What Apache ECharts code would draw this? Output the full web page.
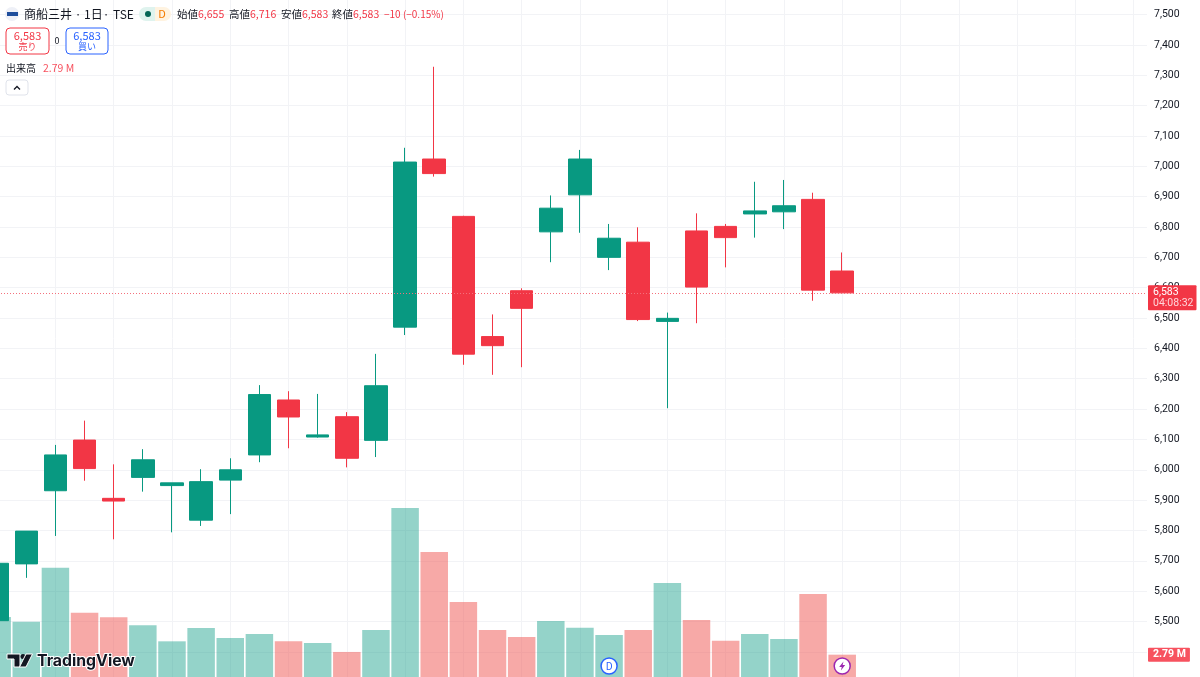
<!DOCTYPE html>
<html>
<head>
<meta charset="utf-8">
<title>商船三井</title>
<script src="https://cdn.jsdelivr.net/npm/echarts@6/dist/echarts.min.js"></script>
<style>
html, body { margin: 0; padding: 0; background: #fff; }
#chart { width: 1200px; height: 677px; }
</style>
</head>
<body>
<div id="chart"></div>
<script type="text/javascript">

// daily bars, left to right
var opens = [5503, 5690, 5931, 6098, 5906, 5975, 5948, 5834, 5966, 6049, 6230, 6108, 6175, 6097, 6470, 7024, 6835, 6439, 6590, 6784, 6906, 6700, 6750, 6489, 6787, 6802, 6843, 6850, 6891, 6655];
var closes = [5692, 5798, 6049, 6004, 5897, 6033, 5957, 5961, 6000, 6248, 6174, 6115, 6038, 6277, 7014, 6976, 6381, 6409, 6532, 6862, 7024, 6763, 6495, 6499, 6602, 6765, 6853, 6870, 6592, 6583];
var lows = [5490, 5644, 5782, 5964, 5771, 5928, 5794, 5815, 5854, 6025, 6071, 6106, 6008, 6042, 6444, 6966, 6346, 6313, 6338, 6684, 6781, 6658, 6490, 6203, 6483, 6667, 6765, 6793, 6557, 6583];
var highs = [5700, 5798, 6082, 6162, 6018, 6068, 5957, 6002, 6038, 6279, 6259, 6250, 6190, 6382, 7061, 7328, 6837, 6512, 6598, 6904, 7054, 6810, 6799, 6518, 6845, 6810, 6949, 6955, 6913, 6716];
// volume in millions
var volumes = [7.5, 6.91, 13.66, 8.04, 7.46, 6.46, 4.46, 6.13, 4.88, 5.38, 4.46, 4.25, 3.13, 5.88, 21.13, 15.63, 9.38, 5.88, 5.0, 7.0, 6.16, 5.25, 5.88, 11.75, 7.13, 4.54, 5.38, 4.75, 10.38, 2.79];
// vertical grid lines, as bar positions
var gridTicks = [2, 4, 6, 8, 10, 12, 14, 16, 18, 20, 23, 25, 27, 29, 31, 33, 35, 37, 39];
var hiddenPriceLabels = [5300, 5400, 7600];
var lastPrice = 6583;
var lastVolume = 2.79;
var dividendBar = 21;
var earningsBar = 29;

var GREEN = '#089981';
var RED = '#f23645';
var FONT = '"Noto Sans CJK JP", "Noto Sans", sans-serif';

var candleData = opens.map(function (o, i) {
	return [i, o, closes[i], lows[i], highs[i]];
});
var volumeData = volumes.map(function (v, i) {
	return {
		value: [i, v],
		itemStyle: { color: closes[i] >= opens[i] ? 'rgba(8,153,129,0.43)' : 'rgba(239,83,80,0.5)' }
	};
});

function txt(x, y, text, size, color, align, weight) {
	return {
		type: 'text', x: x, y: y, z: 100, silent: true,
		style: {
			text: text, fill: color, align: align || 'left', verticalAlign: 'middle',
			font: (weight || 'normal') + ' ' + size + 'px ' + FONT
		}
	};
}
function box(x, y, w, h, stroke, r) {
	return {
		type: 'rect', z: 99, silent: true,
		shape: { x: x, y: y, width: w, height: h, r: r },
		style: { fill: '#fff', stroke: stroke, lineWidth: 1 }
	};
}

var header = [
	{ type: 'circle', z: 99, shape: { cx: 12, cy: 14, r: 7 }, style: { fill: '#eef0f7' } },
	{ type: 'rect', z: 100, shape: { x: 7, y: 12, width: 11, height: 4 }, style: { fill: '#1f4e9c' } },
	txt(24, 14, '商船三井', 12, '#131722'),
	txt(78, 14, '·', 12, '#131722', 'center'),
	txt(84, 14, '1日', 12, '#131722'),
	txt(106, 14, '·', 12, '#131722', 'center'),
	txt(113, 14, 'TSE', 12, '#131722'),
	{ type: 'rect', z: 99, shape: { x: 139, y: 7, width: 16, height: 14, r: [7, 0, 0, 7] }, style: { fill: '#dff3ee' } },
	{ type: 'rect', z: 99, shape: { x: 155, y: 7, width: 16, height: 14, r: [0, 7, 7, 0] }, style: { fill: '#fff3e0' } },
	{ type: 'circle', z: 100, shape: { cx: 148, cy: 14, r: 3 }, style: { fill: '#056656' } },
	txt(162, 14, 'D', 11, '#f57c00', 'center'),
	txt(177, 14, '始値', 10.5, '#131722'),
	txt(198, 14, '6,655', 10.5, RED),
	txt(229, 14, '高値', 10.5, '#131722'),
	txt(250, 14, '6,716', 10.5, RED),
	txt(281, 14, '安値', 10.5, '#131722'),
	txt(302, 14, '6,583', 10.5, RED),
	txt(332, 14, '終値', 10.5, '#131722'),
	txt(353, 14, '6,583', 10.5, RED),
	txt(384, 14, '−10 (−0.15%)', 10, RED),
	box(6, 28, 43, 26, RED, 4),
	txt(27.5, 35.5, '6,583', 11, RED, 'center'),
	txt(27.5, 47, '売り', 9, RED, 'center'),
	txt(57, 41, '0', 9, '#131722', 'center'),
	box(66, 28, 42, 26, '#2962ff', 4),
	txt(87, 35.5, '6,583', 11, '#2962ff', 'center'),
	txt(87, 47, '買い', 9, '#2962ff', 'center'),
	txt(6, 68, '出来高', 10, '#131722'),
	txt(43, 68, '2.79 M', 10.5, '#f7525f'),
	box(6, 80, 22, 15, '#e0e3eb', 3),
	{ type: 'polyline', z: 100, shape: { points: [[14, 89.5], [17, 86.5], [20, 89.5]] }, style: { fill: 'none', stroke: '#131722', lineWidth: 1.3 } },
	// TradingView mark
	{ type: 'polygon', z: 100, shape: { points: [[7, 654], [20, 654], [20, 667], [14, 667], [14, 659], [7, 659]] }, style: { fill: '#131722', stroke: '#fff', lineWidth: 1 } },
	{ type: 'circle', z: 100, shape: { cx: 23, cy: 656.5, r: 2.5 }, style: { fill: '#131722' } },
	{ type: 'polygon', z: 100, shape: { points: [[26, 654], [32.5, 654], [26, 667], [19.5, 667]] }, style: { fill: '#131722', stroke: '#fff', lineWidth: 1 } },
	{
		type: 'text', x: 37, y: 661, z: 100, silent: true,
		style: {
			text: 'TradingView', fill: '#131722', stroke: '#fff', lineWidth: 2,
			verticalAlign: 'middle', font: 'bold 15.8px Inter, "Noto Sans", sans-serif'
		}
	}
];

var chart = echarts.init(document.getElementById('chart'), null, { renderer: 'canvas' });

chart.setOption({
	animation: false,
	backgroundColor: '#ffffff',
	textStyle: { fontFamily: FONT },
	grid: [
		{ left: -32, top: -15.8, width: 1179, height: 698.05, outerBoundsMode: 'none' },
		{ left: -32, top: 477, width: 1179, height: 200, outerBoundsMode: 'none' }
	],
	xAxis: [
		{
			type: 'value', gridIndex: 0, min: -1, max: 39.46,
			axisLine: { show: false }, axisLabel: { show: false },
			axisTick: { show: false, customValues: gridTicks },
			splitLine: { show: true, lineStyle: { color: '#f2f3f6', width: 1 } }
		},
		{
			type: 'value', gridIndex: 1, min: -1, max: 39.46,
			axisLine: { show: false }, axisLabel: { show: false },
			axisTick: { show: false }, splitLine: { show: false }
		}
	],
	yAxis: [
		{
			type: 'value', gridIndex: 0, position: 'right',
			min: 5300, max: 7600, interval: 100,
			axisLine: { show: false }, axisTick: { show: false },
			splitLine: { show: true, lineStyle: { color: '#f2f3f6', width: 1 } },
			axisLabel: {
				color: '#131722', fontSize: 10.5, margin: 7, fontFamily: 'Roboto, "Noto Sans", sans-serif',
				formatter: function (v) {
					if (hiddenPriceLabels.indexOf(v) >= 0) return '';
					return String(v).replace(/(\d)(\d{3})$/, '$1,$2');
				}
			}
		},
		{
			type: 'value', gridIndex: 1, position: 'right', min: 0, max: 25,
			axisLine: { show: false }, axisTick: { show: false },
			axisLabel: { show: false }, splitLine: { show: false }
		}
	],
	graphic: header,
	series: [
		{
			type: 'bar', name: '出来高', xAxisIndex: 1, yAxisIndex: 1, z: 2,
			barWidth: 27.5, data: volumeData,
			markLine: {
				silent: true, symbol: 'none', animation: false,
				lineStyle: { color: 'rgba(0,0,0,0)', width: 0 },
				data: [{ yAxis: lastVolume }],
				label: {
					position: 'end', distance: 1, formatter: '2.79 M',
					color: '#fff', fontSize: 10.5, fontWeight: 'bold',
					backgroundColor: '#f7525f', padding: [2, 4, 1, 5], borderRadius: 1,
					fontFamily: 'Roboto, sans-serif'
				}
			},
			markPoint: {
				silent: true, animation: false,
				data: [
					{
						coord: [dividendBar, 1.375], symbol: 'circle', symbolSize: 16,
						itemStyle: { color: '#fff', borderColor: '#2962ff', borderWidth: 1.5 },
						label: { show: true, formatter: 'D', color: '#2962ff', fontSize: 10, position: 'inside' }
					},
					{
						coord: [earningsBar, 1.375], symbol: 'circle', symbolSize: 16,
						itemStyle: { color: '#fff', borderColor: '#9c27b0', borderWidth: 1.5 },
						label: { show: false }
					},
					{
						coord: [earningsBar, 1.375],
						symbol: 'path://M6 0 L1 6 L4 6 L3 10 L8 4 L5 4 Z', symbolSize: [6, 9],
						itemStyle: { color: '#9c27b0' },
						label: { show: false }
					}
				]
			}
		},
		{
			type: 'candlestick', name: '商船三井', xAxisIndex: 0, yAxisIndex: 0, z: 3,
			barWidth: 23, data: candleData,
			encode: { x: 0, y: [1, 2, 3, 4] },
			itemStyle: {
				color: GREEN, color0: RED,
				borderColor: GREEN, borderColor0: RED, borderWidth: 1
			},
			markLine: {
				silent: true, symbol: 'none', animation: false,
				lineStyle: { color: '#f4707c', type: [1, 2], width: 1, opacity: 1 },
				data: [{ yAxis: lastPrice }],
				label: {
					position: 'end', distance: 1, offset: [0, 5], color: '#fff', backgroundColor: RED,
					padding: [1, 3, 1, 5], borderRadius: 1, lineHeight: 11.5,
					formatter: '{a|6,583}\n{b|04:08:32}',
					rich: {
						a: { color: '#fff', fontSize: 10.5, fontFamily: 'Roboto, sans-serif', lineHeight: 11.5 },
						b: { color: '#ffd6da', fontSize: 10.5, fontFamily: 'Roboto, sans-serif', lineHeight: 11.5 }
					}
				}
			}
		}
	]
});
</script>
</body>
</html>
